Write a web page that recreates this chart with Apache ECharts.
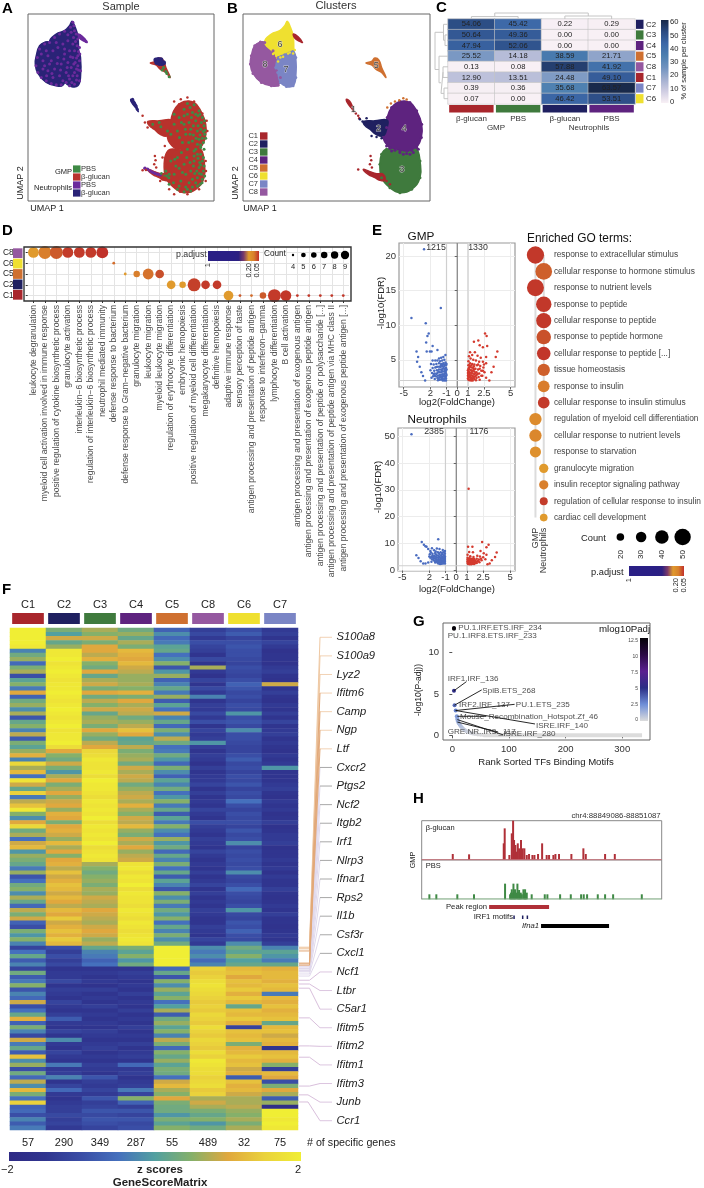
<!DOCTYPE html>
<html><head><meta charset="utf-8">
<style>html,body{margin:0;padding:0;background:#fff}#c{width:704px;height:1188px}</style>
<script src="https://cdn.jsdelivr.net/npm/echarts@6/dist/echarts.min.js"></script>
</head><body><div id="c"></div>
<script>
/* ---------- colours ---------- */
const clusterColors={C1:'#a8262c',C2:'#1f2060',C3:'#3f7a3d',C4:'#5e237f',C5:'#cf7030',C6:'#efe030',C7:'#7a85c5',C8:'#9558a0'};
const heatStops=['#2e2a85','#30358f','#3a4ea6','#4570bd','#52a0a0','#85b06a','#e0a83e','#ead23c','#f0ee34'];
const padjStops=['#c0302a','#c9522b','#d87a2c','#e09a2d'];

/* ---------- A / B : UMAP shapes (units: 0-560 across each frame) ---------- */
const shapeC8=[[52,84],[35,95],[25,125],[22,150],[30,178],[55,205],[85,215],[105,213],[112,190],[100,170],[105,130],[90,110],[65,85]];
const shapeC6=[[133,22],[142,40],[150,65],[152,100],[150,115],[120,122],[105,135],[95,118],[65,85],[85,60],[110,50],[125,35]];
const shapeC7=[[107,130],[125,122],[150,112],[158,130],[158,190],[150,215],[130,217],[112,205],[104,175],[98,160]];
const shapeC1a=[[151,60],[165,68],[178,85],[170,82],[155,72]];
const shapeC5=[[368,147],[385,142],[395,132],[407,138],[415,160],[428,190],[415,175],[398,165],[385,152]];
const shapeC1b=[[310,255],[322,265],[332,292],[325,282],[312,265]];
const shapeC2=[[361,322],[395,320],[432,318],[430,345],[420,365],[398,360],[380,345],[366,335]];
const shapeC4=[[470,262],[500,265],[520,290],[535,330],[534,370],[520,400],[500,420],[470,410],[440,400],[420,370],[430,340],[432,310],[445,280]];
const shapeC3=[[430,405],[470,412],[500,415],[520,405],[530,440],[530,490],[505,525],[470,535],[440,520],[415,490],[410,450],[415,420]];
const shapeC1c=[[360,465],[380,472],[400,478],[420,480],[425,498],[410,498],[395,490],[375,480]];
const neutroPurple=[[135,25],[138,35],[128,40],[140,50],[145,60],[130,55],[120,62],[150,75],[155,100],[148,95],[140,110],[150,125],[155,140],[150,155],[158,170],[148,185],[155,200],[140,210],[125,215],[115,205],[100,212],[85,212],[70,208],[55,200],[40,190],[30,175],[24,155],[28,130],[35,105],[50,90],[65,85],[80,70],[95,60],[110,52],[120,80],[105,90],[90,100],[75,110],[60,125],[45,140],[70,140],[90,130],[110,120],[125,110],[135,130],[120,145],[100,150],[80,165],[60,170],[45,165],[75,190],[95,185],[115,175],[130,160],[140,175],[125,195],[105,200],[135,90],[110,105],[85,85],[55,110],[40,120],[50,155],[65,150],[88,148],[108,135],[128,128],[142,145],[118,160],[98,168],[72,178],[56,185],[160,68],[168,75],[175,82],[171,78],[143,82],[137,70],[152,112],[146,132],[156,120],[152,168],[146,198],[135,185],[132,205],[122,185],[146,165],[138,150]];
const gmpGreen=[[480,268],[500,272],[515,290],[525,310],[530,335],[532,360],[528,385],[520,400],[510,420],[525,440],[528,470],[525,495],[510,515],[490,530],[470,532],[450,525],[480,300],[505,320],[490,345],[510,350],[475,360],[520,345],[495,380],[510,390],[480,405],[465,385],[450,350],[440,330],[455,310],[470,285],[500,440],[515,460],[490,470],[470,450],[510,490],[485,505],[460,500],[440,480],[430,440],[450,430],[425,510],[415,470],[500,410],[520,420],[505,300],[495,295],[515,375],[470,330],[485,325],[440,300],[462,415],[445,455],[478,430],[495,495],[518,510],[502,478],[465,475],[438,505],[455,515],[475,518],[400,338],[420,350],[375,330],[395,325],[430,360],[522,325],[512,335],[498,362],[525,372],[505,405],[517,445],[508,470],[522,480],[498,455],[484,385],[456,370],[533,348],[530,405],[488,280],[512,305],[492,310],[518,300],[528,352],[518,362],[506,372],[520,392],[535,372],[532,320],[498,335],[488,360],[474,345],[462,325],[470,305],[528,430],[520,452],[512,432],[530,455],[532,485],[516,478],[524,505],[505,505],[495,518],[480,525],[500,425],[488,445],[475,480],[455,462],[442,435],[425,480]];
const gmpRedEdge=[[345,305],[368,330],[378,342],[460,255],[480,250],[500,262],[382,425],[384,438],[380,450],[386,460],[345,468],[430,345],[440,262],[540,350],[538,320],[535,440],[535,500],[440,540],[480,540],[405,495],[398,500],[430,500],[355,467],[525,298],[455,270],[412,395],[405,430],[408,480],[425,525],[458,532],[515,525],[536,470],[352,325],[360,340]];
const smallNavy=[[385,138],[392,136],[398,142],[403,148],[396,148],[388,145],[408,146],[400,137]];
const smallGreen=[[408,160],[415,172],[425,188],[418,178],[404,168]];
const tailPurple=[[360,465],[368,470],[375,474],[382,477],[390,480],[398,482],[352,462]];
const tailGreen=[[402,478],[410,482],[418,485],[424,490]];
const streakNavy=[[312,258],[316,262],[320,268],[325,275],[329,285],[315,255]];
const clusterEdge=[[25,150],[40,100],[52,200],[85,218],[130,220],[160,150],[160,180],[133,18],[150,50],[135,28]];
const clusterYellowBits=[[100,125],[112,130],[135,118],[150,118],[90,120],[72,95],[120,128],[105,142],[140,115],[155,108]];
const clusterOrangeBits=[[443,268],[455,262],[468,258],[480,252],[490,256],[432,280]];
const clusterPurpleBits=[[430,395],[445,410],[470,415],[490,418],[510,415],[525,405],[455,408],[480,420],[440,402],[505,408]];
const clusterRedBits=[[338,298],[345,305],[348,312],[382,425],[384,438],[380,450],[386,460],[430,500],[440,510],[345,466]];
const clusterNavyBits=[[350,315],[358,322],[370,312],[385,365],[400,368],[415,372]];
const clusterNames=['C1','C2','C3','C4','C5','C6','C7','C8'];
const clusterLabels=[['6',111,90],['8',66,152],['7',129,165],['5',399,154],['1',331,287],['2',406,342],['4',483,342],['3',476,467]];

/* ---------- C : sample share per cluster ---------- */
const sampleNames=['β-glucan','PBS','β-glucan','PBS'];
const sampleColors=['#a8262c','#3f7a3d','#1f2060','#5e237f'];
const shareRows=['C2','C3','C4','C5','C8','C1','C7','C6'];
const shareGlucanGMP=[54.06,50.64,47.94,25.52,0.13,12.90,0.39,0.07];
const sharePbsGMP=[45.42,49.36,52.06,14.18,0.08,13.51,0.36,0.00];
const shareGlucanNeu=[0.22,0.00,0.00,38.59,57.88,24.48,35.68,46.42];
const sharePbsNeu=[0.29,0.00,0.00,21.71,41.92,49.10,63.57,53.51];
const shareStops=['#f8f0f5','#cfcde2','#a2afd0','#6f92bf','#4c7fb0','#3c68a8','#2b4b82','#182848'];
const shareTicks=[0,10,20,30,40,50,60];
const dendroTop=[[[.5,0],[.5,2],[1.5,2],[1.5,0]],[[2.5,0],[2.5,2.5],[3.5,2.5],[3.5,0]],[[1,2],[1,5],[3,5],[3,2.5]]];
const dendroLeft=[[[0,1.5],[3,1.5],[3,2.5],[0,2.5]],[[0,.5],[4.5,.5],[4.5,2],[3,2]],[[0,6.5],[4,6.5],[4,7.5],[0,7.5]],[[0,4.5],[5,4.5],[5,5.5],[0,5.5]],[[5,5],[7,5],[7,7],[4,7]],[[0,3.5],[9,3.5],[9,6],[7,6]],[[4.5,1.25],[13,1.25],[13,4.75],[9,4.75]]];

/* ---------- D : GO dot plot per cluster ---------- */
const goTerms=['leukocyte degranulation','myeloid cell activation involved in immune response','positive regulation of cytokine biosynthetic process','granulocyte activation','interleukin−6 biosynthetic process','regulation of interleukin−6 biosynthetic process','neutrophil mediated immunity','defense response to bacterium','defense response to Gram−negative bacterium','granulocyte migration','leukocyte migration','myeloid leukocyte migration','regulation of erythrocyte differentiation','embryonic hemopoiesis','positive regulation of myeloid cell differentiation','megakaryocyte differentiation','definitive hemopoiesis','adaptive immune response','sensory perception of taste','antigen processing and presentation of peptide antigen','response to interferon−gamma','lymphocyte differentiation','B cell activation','antigen processing and presentation of exogenous antigen','antigen processing and presentation of exogenous peptide antigen','antigen processing and presentation of peptide or polysaccharide [...]','antigen processing and presentation of peptide antigen via MHC class II','antigen processing and presentation of exogenous peptide antigen [...]'];
const goClusters=['C8','C6','C5','C2','C1'];
const goDots=[[0,0,8,.05],[1,0,9,.036],[2,0,9,.02],[3,0,8,.006],[4,0,8,.005],[5,0,8,.005],[6,0,8.5,.001],[7,1,4,.028],[8,2,4,.05],[9,2,6,.036],[10,2,8,.03],[11,2,7,.015],[12,3,7,.05],[13,3,6,.05],[14,3,9,.008],[15,3,7,.005],[16,3,7,.005],[17,4,7.5,.05],[18,4,4,.02],[19,4,4,.028],[20,4,6,.02],[21,4,9,.005],[22,4,8,.004],[23,4,4,.004],[24,4,4,.004],[25,4,4,.004],[26,4,4,.004],[27,4,4,.004]];
const goCountLegend=['4','5','6','7','8','9'];

/* ---------- E : volcano plots ---------- */
const volcanoTicks=[-5,-2.5,-1,0,1,2.5,5];
const volcanoTickLabels=['-5','2','-1','0','1','2.5','5'];
const gmpDown=[[-4.28,11.06],[-2.94,10.3],[-1.53,12.5],[-3.1,21],[-2.66,8.8],[-2.78,8.45],[-2.9,7.5],[-2.3,7],[-3.8,6.2],[-2.85,6.2],[-2.55,6.2],[-2.4,6.2],[-1.85,6.4],[-3.65,5.4],[-3.75,4.7],[-3.5,4],[-3.35,3.2],[-3.2,2.65],[-3,2],[-1.1,5.7],[-1.3,5.4],[-1.5,5.3],[-1.7,5.2],[-1.2,5],[-1.4,4.9],[-1.6,4.8],[-1.85,4.9],[-2.05,4.9],[-2.3,4.9],[-1.1,4.6],[-1.3,4.5],[-1.5,4.4],[-1.7,4.5],[-1.95,4.4],[-2.2,4.3],[-1.05,4.2],[-1.2,4.1],[-1.4,4.1],[-1.6,4],[-1.8,4],[-2.05,3.9],[-2.3,3.8],[-1.05,3.8],[-1.2,3.7],[-1.35,3.7],[-1.5,3.6],[-1.7,3.6],[-1.9,3.5],[-2.15,3.4],[-1.05,3.4],[-1.2,3.3],[-1.35,3.3],[-1.5,3.2],[-1.65,3.2],[-1.85,3.1],[-2.1,3],[-2.35,3.1],[-1.05,3],[-1.2,2.95],[-1.35,2.9],[-1.5,2.85],[-1.65,2.8],[-1.8,2.7],[-2,2.6],[-2.25,2.6],[-1.05,2.65],[-1.2,2.6],[-1.35,2.55],[-1.5,2.5],[-1.65,2.45],[-1.85,2.35],[-2.1,2.2],[-1.05,2.3],[-1.2,2.25],[-1.35,2.2],[-1.5,2.15],[-1.65,2.1],[-1.8,2.05],[-1.05,2],[-1.2,2],[-1.35,2],[-2.4,2.4],[-1,3.6],[-1,2.8],[-1,4.4],[-1.1,2.45],[-1.3,2.75],[-1.45,3.45],[-1.1,3.15],[-1.28,3.95],[-1.55,3.95],[-1.75,3.3],[-1.95,2.95],[-1.95,3.95],[-1.75,2.3],[-1.6,2.65],[-1.45,2.35],[-1.15,3.5],[-1.12,4.35],[-1.32,4.3],[-1.52,4.2],[-2.2,2.95],[-2.5,3.5],[-2.45,4.4],[-2.1,2.7]];
const gmpUp=[[3.75,6.2],[3.6,5.4],[3.4,4],[3.2,3.2],[3,2],[2.6,8.8],[2.75,8.45],[1.97,7.8],[1.56,7.6],[2.1,7.1],[2.4,6.8],[2.8,7],[1.2,6.1],[1.65,6.1],[1.4,5.7],[1.9,5.6],[2.2,5.3],[2.7,5.4],[1.1,5.5],[1.25,5.2],[1.5,5],[1.75,4.9],[2.05,4.7],[2.4,4.7],[2.7,4.5],[1.05,4.8],[1.2,4.5],[1.4,4.4],[1.6,4.3],[1.85,4.2],[2.15,4.1],[2.45,3.9],[1.05,4.2],[1.2,4],[1.35,3.9],[1.5,3.8],[1.7,3.7],[1.95,3.6],[2.25,3.4],[2.55,3.2],[1.05,3.7],[1.15,3.6],[1.3,3.5],[1.45,3.4],[1.6,3.3],[1.8,3.2],[2.05,3],[2.35,2.7],[2.7,2.4],[1.05,3.3],[1.15,3.2],[1.3,3.1],[1.45,3],[1.6,2.9],[1.8,2.8],[2,2.5],[1.05,2.9],[1.15,2.85],[1.3,2.75],[1.45,2.65],[1.6,2.55],[1.8,2.35],[2.1,2.1],[1.05,2.5],[1.15,2.45],[1.3,2.4],[1.45,2.3],[1.6,2.2],[1.75,2.05],[1.05,2.1],[1.15,2.05],[1.3,2],[1.45,2],[1,2.7],[1,3.5],[1,2.3],[1.1,4.2],[1.22,2.6],[1.38,2.2],[1.5,2.5],[1,3.1],[1.1,3],[1.25,2.2],[1.12,2.75],[1.38,3.25],[1.55,3.6],[1.7,3.1],[1.7,2.6],[1.9,2.95],[1.32,4.2],[1.55,4.05],[1.1,3.85],[1.95,4.3],[2.25,2.7],[2.4,3.4],[2.5,4.3],[2.1,3.7]];
const neuDown=[[-4.15,50.7],[-3.2,10.6],[-2.75,8.8],[-3.7,5.7],[-3.5,4.6],[-3.3,3.4],[-3.06,2.6],[-1.67,11.6],[-3,9.6],[-2.85,9],[-2.6,8],[-2.4,7.2],[-2.25,8.3],[-2.05,7.5],[-1.8,8.2],[-1.55,8],[-1.25,7.6],[-1.05,7.2],[-1.2,6.8],[-1.45,6.8],[-1.7,6.8],[-1.95,6.5],[-2.2,6.2],[-2.45,6],[-1.05,6.2],[-1.3,6],[-1.55,5.9],[-1.8,5.7],[-2.05,5.4],[-2.3,5.1],[-1.05,5.3],[-1.3,5.1],[-1.55,5],[-1.8,4.8],[-2.05,4.5],[-2.25,4.2],[-1.05,4.6],[-1.25,4.5],[-1.45,4.3],[-1.65,4.2],[-1.85,4],[-2.05,3.7],[-1.05,3.9],[-1.2,3.8],[-1.4,3.7],[-1.6,3.5],[-1.8,3.2],[-1.95,3],[-1.05,3.2],[-1.2,3.1],[-1.4,3],[-1.55,2.9],[-1.7,2.7],[-1.05,2.6],[-1.2,2.6],[-1.35,2.5],[-1.5,2.4],[-2.3,3.2],[-2.6,3],[-2.85,2.6],[-1.15,5.7],[-1.4,5.5],[-1.65,5.4],[-1.9,5.1],[-2.15,4.9],[-2.4,4.7],[-1.15,4.9],[-1.4,4.75],[-1.65,4.65],[-1.9,4.4],[-2.15,4.1],[-1.15,4.25],[-1.35,4.1],[-1.55,3.95],[-1.75,3.7],[-1.95,3.45],[-1.15,3.5],[-1.3,3.4],[-1.5,3.3],[-1.7,3.1],[-1.15,2.85],[-1.3,2.75],[-1.45,2.65],[-1.6,2.6],[-1.3,6.5],[-1.6,6.4],[-1.9,6],[-2.2,5.6],[-2.5,5.2],[-1.1,6.7],[-2.35,6.7],[-1.9,7.1]];
const neuUp=[[1.15,30.4],[1.5,8.8],[1.1,8.8],[2.4,10.6],[3,9.6],[2.8,8.6],[3.75,6.7],[3.6,5],[3.3,3.8],[3.1,2.6],[1.55,6.8],[1.2,6.9],[2.25,7.2],[2.55,6.4],[2.8,5.8],[1.05,5.8],[1.3,5.3],[1.6,5],[1.95,5.5],[2.2,5.2],[2.5,4.9],[2.7,4.2],[1.05,4.7],[1.25,4.5],[1.45,4.4],[1.65,4.3],[1.9,4.4],[2.1,4.1],[2.35,3.8],[1.05,4.1],[1.2,3.9],[1.35,3.8],[1.55,3.7],[1.75,3.6],[1.95,3.4],[2.15,3.1],[1.05,3.4],[1.2,3.3],[1.35,3.2],[1.5,3.1],[1.7,3],[1.9,2.8],[1.05,2.8],[1.2,2.7],[1.35,2.6],[1.5,2.5],[1.65,2.4],[2.9,2.3],[1.12,3.05],[1.28,2.95],[1.42,2.85],[1.58,2.75],[1.75,2.65],[1.12,3.6],[1.28,3.5],[1.45,3.45],[1.62,3.35],[1.82,3.25],[2.05,3.6],[1.12,4.4],[1.32,4.2],[1.5,4.05],[1.7,3.95],[2.3,4.4],[1.1,2.4],[1.25,2.35],[1.4,2.3]];

/* ---------- E : enriched GO terms ---------- */
const enrichedTerms=['response to extracellular stimulus','cellular response to hormone stimulus','response to nutrient levels','response to peptide','cellular response to peptide','response to peptide hormone','cellular response to peptide [...]','tissue homeostasis','response to insulin','cellular response to insulin stimulus','regulation of myeloid cell differentiation','cellular response to nutrient levels','response to starvation','granulocyte migration','insulin receptor signaling pathway','regulation of cellular response to insulin','cardiac cell development'];
const enrichedSamples=['GMP','Neutrophils'];
const enrichedDots=[[0,0,50,.004],[1,1,48,.022],[0,2,49,.004],[1,3,44,.004],[1,4,43,.004],[1,5,41,.016],[1,6,38,.003],[1,7,34,.022],[1,8,32,.035],[1,9,32,.005],[0,10,34,.042],[0,11,34,.04],[0,12,30,.045],[1,13,24,.05],[1,14,24,.036],[1,15,20,.006],[1,16,19,.05]];
const enrichedCountLegend=['20','30','40','50'];

/* ---------- F : heat map (z scores, one row per peak group) ---------- */
const heatColumns=['C1','C2','C3','C4','C5','C8','C6','C7'];
const specificGenes=['57','290','349','287','55','489','32','75'];
const rowsC1=[[2,.4,.7,.3,-.7,-1.3,-1,-1.4],[2,0,.5,.6,-.2,-1.1,-.8,-1.3],[2,.9,.9,.2,-.6,-1.4,-1.2,-1.5],[2,.2,.4,.7,-.4,-1,-1,-1.2],[1.9,.6,1,.4,.1,-1.2,-.9,-1.4]];
const rowsC2=[[-.3,1.9,1,1.2,.2,-1.3,-1,-1.6],[.3,1.9,.8,1.1,-.5,-1.5,-1,-1.5],[.6,2,1.1,1,-.2,-1.1,-1.1,-1.5],[-.6,1.8,.5,1.2,.5,-1.5,-1.2,-1.6],[.4,1.9,.3,.9,-.9,.7,-1,-1.4],[.7,2,1,.8,-.1,-1.4,-1.1,-1.3],[-1,1.9,.2,.6,.6,-1.6,-1.2,-1.5],[.1,1.8,.7,.6,-.7,-1.2,-1,-1.6],[.5,1.9,.9,.7,-.3,-1.5,-.7,.9],[-.4,1.9,.4,.5,.2,-1.1,-.9,-1.5],[1,2,1,1.1,-.4,-1.4,-1.1,-1.3],[-.7,1.9,.3,.4,.6,-.3,-1,-1.5],[.3,1.8,.8,1,-.8,-1.5,-1.2,-1.6],[.6,1.9,.5,.7,.1,-1.3,-1,-1.4],[-.2,2,.9,.9,-.5,-1.4,-1.1,-1.5],[.7,1.9,.2,.8,.9,-1.1,-.1,-1.3],[-.9,1.8,.6,.3,-.3,-1.4,-1,-1.5],[.2,1.9,.7,.6,.2,-1,-.9,-1.2],[.5,2,.4,.8,-.6,-1.5,-1.1,-1.5],[-.3,1.8,1,1.3,.4,-1.2,-.2,-1.4],[.8,1.9,.6,1,-.2,-1.4,-1,-1.3],[-.8,1.9,.3,.1,.8,-1.3,-1,-1.5],[.4,2,.8,.2,.3,-.1,-1.1,-1.4],[.1,1.7,1,.8,-.5,-1.3,-1.2,-1.5]];
const rowsC3=[[.6,1,1.6,.4,-.4,-1.5,-1.2,-1.6],[1.1,.5,1.7,.6,.3,-1.3,-1,-1.4],[-.3,.3,1.9,.7,-.1,-1.4,-.8,-1.5],[1.6,.9,1.8,.3,-.6,-1.6,-1.1,-1.4],[.7,.4,1.8,.9,.4,-1.3,-1,-.1],[1.2,-.1,1.9,.7,-.2,-1.5,-1.2,-1.5],[-.5,.7,1.7,.9,-.7,-1.4,-1,-1.5],[1.8,1,2,.8,.1,-1.4,-1.1,-1.5],[.9,.4,1.9,.3,-.3,-1.2,-.9,-1.4],[.2,.7,1.9,.6,.3,-1.5,-1.2,-1.3],[1.5,1,1.8,.8,-.5,-1.3,-1,-1.5],[-.4,.6,1.7,.9,-.1,-1.5,-1.1,-1.6],[.8,.9,1.9,.7,.5,-1.4,-.5,-1.4],[1.3,1,1.8,1.1,-.4,-1.5,-1,-1.5],[1.9,.6,1.9,.7,.2,-1.2,-1.2,-1.4],[.5,1.1,1.8,.5,-.8,-1.4,-1,-1.6],[-.2,1,2,.9,.1,-1.5,-1.1,-1.5],[1,.4,1.7,.8,-.4,-1,-1,-1.3],[1.6,1,1.9,1.2,.5,-1.3,-1.2,-1.6],[.3,1.1,1.8,.6,-.2,-1.4,-.9,-1.5],[.7,.9,1.9,.4,-.5,-1.5,-1.1,-1.4],[-.5,.6,1.8,.9,.6,-1.3,-1,-1.4],[.9,1.2,2,.7,-.1,-1.4,-.2,-1.3],[1.2,.7,1.7,1,.3,-1.5,-1.2,-1.6],[-.1,1,1.8,.6,-.6,-1.2,-1,-1.5],[.6,.5,1.9,.8,.2,-1.4,-1.1,-1.5],[.4,1,1.8,.9,-.3,-1.5,-1,-1.4]];
const rowsC4=[[.2,1.1,.7,1.8,.4,-1.4,-1.1,-1.5],[-.4,.8,.5,1.9,-.5,-1.5,-1,-1.4],[.6,1.3,.3,1.7,.2,-1.3,-.2,-1.6],[-.9,.9,.5,1.9,-.8,-1.5,-1.1,-1.4],[-.5,1.1,.6,1.8,.1,-1.4,-1.2,-1.5],[.3,1.3,.4,2,-.3,-1.2,-1,-1.5],[.5,1.2,.7,1.7,-.9,-1.5,-.6,-1.3],[-.2,.9,.6,1.9,.5,-1.3,-1,-1.5],[.7,1.2,.9,1.8,-.2,-1.5,-1.1,-1.6],[.2,1,.8,1.8,.4,-1.4,-1.2,-1.5],[-.6,.8,.7,1.7,-.4,-1.5,-1,-1.4],[.8,1.2,1,1.9,.3,-1.3,-.1,-1.5],[.4,1,.9,1.8,-.1,-1.4,-1.1,-1.3],[.9,1.4,.8,1.7,.5,-1.5,-1.2,-1.5],[-.7,.9,.7,1.9,-.5,-1.5,-.9,-1.5],[-1,1.1,.9,1.8,.2,-1.3,-1,-1.6],[.4,1.3,1,1.7,-.3,-1.4,-.7,-1.5],[-.1,1.1,.9,1.8,.4,-1.5,-1,-1.4],[.5,1.4,.6,1.9,-.2,-1.2,-1.1,-1.5],[-.3,1.2,.8,1.8,.3,-1.4,-.2,-1.3]];
const rowsC5=[[-1.2,-1,.2,.4,2,-.2,.3,-.3],[-.5,-1.3,-.3,.1,2,-.4,.1,.1],[.2,-1,-.4,.5,2,-.2,.5,-.1],[-.8,-1.3,-.7,-.1,2,-.6,0,-.4],[-.3,-1.1,-.5,.3,2,-.3,.2,.2]];
const rowsC8=[[-1.2,-1.5,-1.5,-1.5,-.6,1.5,1.2,1.1],[.3,-1.4,-1.4,-1.3,.2,1.4,1.3,1.2],[-.8,-1.4,-1.5,-1.4,-.9,1.5,1,1.2],[-.4,-1.1,-1.4,-1.5,.5,1.7,1.3,1.1],[.5,-1.5,-1.6,-1.4,-.2,1.8,1.2,1.3],[-.9,-1.3,-1.3,-1.5,.6,1.7,1.4,1.2],[-.3,-1.4,-1.5,-1.3,.1,1.6,1.1,-.4],[-.6,-1.5,-1.4,-1.5,.5,1.5,1.4,1.2],[.9,-1.2,-1.5,-1.4,-.5,1.4,1.2,1.1],[-1,-1.4,-1.3,-1.5,0,1.5,.2,1.3],[-.5,-1.5,-1.5,-1.3,.7,1.4,1.3,1.1],[.2,-1.3,-1.4,-1.5,-.8,1.6,1.2,1.2],[1.1,-.8,-1.5,-1.4,.3,1.5,1.4,1.3],[-.7,-1.4,-1.4,-1.5,.6,1.4,1.1,.2],[.4,-1.5,-1.5,-1.3,.1,1.7,-1.2,1.2],[-.3,-1.2,-1.3,-1.5,.5,1.5,1.3,1.3],[-1.1,-1.5,-1.4,-1.4,-.3,1.4,1.2,.9],[.9,-.2,-1.5,-1.5,.8,1.6,1.3,1.2],[-.4,-1.4,-1.4,-1.3,.4,1.5,.4,1.1],[.2,-1.5,-1.3,-1.5,-.6,1.4,1.1,-1.5],[-.8,-1.2,-1.5,-1.4,.5,1.7,1.2,1.2],[1.3,-1.4,-1.4,-1.3,.2,1.5,1.4,1.3],[-.2,-1.5,-1.5,-1.5,.6,1.9,1.2,1.1],[.6,-.4,-1.3,-.6,.1,1.8,1.3,.5],[-1,-1.4,-1.4,-1.4,.4,1.7,.9,-1.3],[.3,-1.3,-1.5,-1.3,.3,1.7,1.1,1.2],[-.6,-.3,-.9,-1.5,-.5,1.5,-.8,1],[.8,-1.5,-1.3,-1.4,.9,1.6,1.3,-1],[-.2,-1.2,-1.4,-1.3,1.2,1.7,1.1,.4],[1.2,-.6,-1.2,-.4,.7,1.4,1.2,1],[.4,-1.4,-1.4,-1.2,.5,1.5,.9,.7],[-.5,-1.5,-.9,.5,1,.7,.7,-.8],[1.5,-1.4,-1.3,-.7,.4,.9,.7,.6],[-.7,-1.3,-1.2,-1.3,.3,.7,.8,-1.8]];
const rowsC7=[[-.6,-1.3,-.9,-.9,.3,.4,.6,2],[-1,-1.1,-1.1,-1.2,-.1,.2,.5,2],[-.3,-1.3,-.9,-.9,.4,.5,.7,1.9],[-.8,-1.2,-1,-1.1,.1,-.1,.4,2],[-.4,-1.4,-1.2,-1,.5,.3,.7,1.9]];

/* ---------- F : marked genes ---------- */
const geneNames=['S100a8','S100a9','Lyz2','Ifitm6','Camp','Ngp','Ltf','Cxcr2','Ptgs2','Ncf2','Itgb2','Irf1','Nlrp3','Ifnar1','Rps2','Il1b','Csf3r','Cxcl1','Ncf1','Ltbr','C5ar1','Ifitm5','Ifitm2','Ifitm1','Ifitm3','Junb','Ccr1'];
const geneRows=[76.3,76.5,76.7,77.2,80.1,80.3,80.6,80.8,81,81.3,81.4,81.5,81.8,81.9,82,82.2,82.7,83.2,84.2,85.1,86.1,93.2,99.9,102.6,109.5,111.6,113.3];

/* ---------- G : ranked TF motifs ---------- */
const tfPoints=[[3,13],[3,12.9],[3,5.4],[4,3.65],[6,3],[8,2.3],[9,2.1],[9,1.9],[10,1.7],[11,1.5],[13,1.3],[15,1.1],[17,.95],[19,.8],[22,.65],[25,.5],[28,.4],[32,.3],[36,.22],[40,.15],[45,.1],[50,.06],[55,.03]];
const tfFlatRange=[[55,0],[335,0]];
const tfLabels=[[10.6,13,'PU.1.IRF.ETS.IRF_234'],[-8.2,12,'PU.1.IRF8.ETS.IRF_233'],[-8.2,6.9,'IRF1.IRF_136'],[53,5.4,'SpiB.ETS_268'],[12,3.7,'IRF2.IRF_137'],[112,3.7,'PU.1.ETS_235'],[13.5,2.3,'Mouse_Recombination_Hotspot.Zf_46'],[147.6,1.1,'ISRE.IRF_140'],[-8.2,.4,'GRE.NR..IR3._117'],[90,.15,'ISRE.IRF_280']];
const tfLeaders=[[[3,5.4],[25,6.5]],[[4,3.65],[52,5.5]],[[6,3],[110,3.75]],[[6,3],[146,1.37]],[[9,2.3],[60,2.3]],[[9,1.9],[90,.05]],[[9,1.6],[81,.4]]];
const tfTicksX=[0,100,200,300];
const tfTicksY=[0,5,10];
const tfStops=['#dcdcdc','#6f8fd8','#2b2e85','#5a2090','#2c0a45','#050308'];
const tfLegendTicks=['12.5','10','7.5','5','2.5','0'];

/* ---------- H : coverage tracks (offset bp, signal) ---------- */
const trackGlucan=[[259,18],[395,17],[684,50],[692,95],[731,15],[751,80],[762,118],[770,60],[781,45],[790,25],[801,50],[812,35],[820,30],[828,60],[842,35],[856,35],[876,15],[895,18],[923,15],[940,15],[970,18],[1004,50],[1042,15],[1062,15],[1098,15],[1115,18],[1145,18],[1248,18],[1348,35],[1368,18],[1529,18],[1610,18]];
const trackPbs=[[64,15],[122,15],[297,15],[436,15],[695,47],[737,15],[745,20],[751,30],[758,20],[765,47],[772,22],[778,30],[788,20],[798,47],[805,22],[812,28],[820,18],[826,20],[835,15],[848,30],[855,18],[862,30],[868,18],[876,20],[917,15],[1026,15],[1048,15],[1154,15],[1243,15],[1329,15],[1351,15],[1379,15],[1468,15],[1529,15],[1596,15],[1835,15]];
const peakRegion=[[562,0],[1062,0]];
const irfMotifs=[770,842,881];
const ifna1Gene=[[995,0],[1562,0]];

/* ---------- builders ---------- */
const FONT='"Liberation Sans",Arial,sans-serif';
const grids=[],xA=[],yA=[],series=[],gfx=[],vms=[];
function G(l,t,w,h,x,y,opt){const i=grids.length;
  grids.push(Object.assign({left:l,top:t,width:w,height:h,containLabel:false},opt||{}));
  xA.push(Object.assign({gridIndex:i,type:'value',show:false,splitLine:{show:false}},x||{}));
  yA.push(Object.assign({gridIndex:i,type:'value',show:false,splitLine:{show:false}},y||{}));
  return i;}
function T(x,y,text,o){o=o||{};gfx.push({type:'text',x:x,y:y,rotation:o.rot||0,z:50,silent:true,style:{text:text,fill:o.color||'#222',textAlign:o.align||'left',textVerticalAlign:o.v||'middle',font:(o.italic?'italic ':'')+(o.bold?'bold ':'')+(o.size||8)+'px '+FONT}});}
function bar(x,y,w,h,stops,vert){const c=stops.map((s,i)=>({offset:i/(stops.length-1),color:s}));
  gfx.push({type:'rect',z:40,silent:true,shape:{x:x,y:y,width:w,height:h},style:{fill:new echarts.graphic.LinearGradient(0,vert?1:0,vert?0:1,0,c)}});}
function poly(g,pts,color){series.push({type:'custom',xAxisIndex:g,yAxisIndex:g,silent:true,clip:false,data:pts,encode:{x:0,y:1},renderItem:(p,api)=>{if(p.dataIndex!==0)return;return {type:'polygon',shape:{points:pts.map(q=>api.coord(q)),smooth:.45},style:{fill:color,stroke:color,lineWidth:1.5}};}});}
function sc(g,pts,color,size,o){series.push(Object.assign({type:'scatter',xAxisIndex:g,yAxisIndex:g,data:pts,symbolSize:size,silent:true,animation:false,itemStyle:{color:color,opacity:1}},o||{}));}
function ln(g,pts,color,w,z){series.push({type:'line',xAxisIndex:g,yAxisIndex:g,data:pts,showSymbol:false,symbol:'none',silent:true,animation:false,clip:false,z:z||2,lineStyle:{color:color,width:w}});}
function strip(l,t,w,h,colors,vertical,gap,labels,labOpt){
  const cats=colors.map((_,i)=>labels?labels[i]:String(i));
  const catAx={type:'category',data:cats,show:!!labels,axisLine:{show:false},axisTick:{show:false},axisLabel:labOpt||{}};
  if(vertical)catAx.inverse=true;
  const valAx={type:'value',min:0,max:1,show:false};
  const g=vertical?G(l,t,w,h,valAx,catAx):G(l,t,w,h,catAx,valAx);
  series.push({type:'bar',xAxisIndex:g,yAxisIndex:g,silent:true,animation:false,barWidth:(100-gap)+'%',
    data:colors.map(c=>({value:1,itemStyle:{color:c}}))});
  return g;}
function panel(letter,x,y){T(x,y,letter,{bold:true,size:15,color:'#000'});}

/* ---------- A ---------- */
panel('A',2,9);panel('B',227,9);panel('C',436,8);panel('D',2,231);panel('E',372,231);panel('F',2,590);panel('G',413,622);panel('H',413,799);
const umapAxX={min:0,max:560},umapAxY={min:0,max:560,inverse:true};
const frame={show:true,borderColor:'#666',borderWidth:1,backgroundColor:'#fff'};
const a=G(28,14,186,187,umapAxX,umapAxY,frame);
const navy='#2a2377',aPurple='#6b2a9c',aRed='#b8322c',aGreen='#3f8a45';
[shapeC8,shapeC6,shapeC7].forEach(s=>poly(a,s,navy));
poly(a,shapeC5,aRed);poly(a,shapeC1a,aPurple);poly(a,shapeC1b,navy);poly(a,shapeC1c,aRed);
poly(a,shapeC2,aRed);poly(a,shapeC4,aRed);poly(a,shapeC3,aRed);
sc(a,neutroPurple,aPurple,3);
sc(a,smallNavy,navy,5);sc(a,smallGreen,aGreen,3);sc(a,tailPurple,aPurple,3.5);sc(a,tailGreen,aGreen,3);sc(a,streakNavy,navy,3);
sc(a,gmpGreen,aGreen,3);sc(a,gmpRedEdge,aRed,2.5);
T(121,7,'Sample',{align:'center',size:11,color:'#333'});
T(47,209,'UMAP 1',{align:'center',size:9,color:'#222'});
T(21,183,'UMAP 2',{align:'center',size:9,color:'#222',rot:Math.PI/2});
T(72,172,'GMP',{align:'right',size:7.5});T(72,188,'Neutrophils',{align:'right',size:7.5});
strip(73,165,7.5,32,[aGreen,aRed,aPurple,navy],true,10);
['PBS','β-glucan','PBS','β-glucan'].forEach((s,i)=>T(81,169+i*8,s,{size:7.5,color:'#333'}));

/* ---------- B ---------- */
const b=G(243,14,187,187,umapAxX,umapAxY,frame);
const cc=clusterColors;
poly(b,shapeC8,cc.C8);poly(b,shapeC6,cc.C6);poly(b,shapeC7,cc.C7);poly(b,shapeC1a,cc.C1);poly(b,shapeC5,cc.C5);poly(b,shapeC1b,cc.C1);poly(b,shapeC4,cc.C4);poly(b,shapeC2,cc.C2);poly(b,shapeC3,cc.C3);poly(b,shapeC1c,cc.C1);
sc(b,shapeC3,cc.C3,3);sc(b,shapeC4,cc.C4,3);sc(b,shapeC8,cc.C8,3);sc(b,shapeC7,cc.C7,3);
sc(b,clusterYellowBits,cc.C6,2.5);sc(b,clusterOrangeBits,cc.C5,2.5);sc(b,clusterPurpleBits,cc.C4,3);sc(b,clusterRedBits,cc.C1,2.5);sc(b,clusterNavyBits,cc.C2,2.5);
series.push({type:'scatter',xAxisIndex:b,yAxisIndex:b,silent:true,symbolSize:0,z:6,data:clusterLabels.map(d=>({value:[d[1],d[2]],label:{show:true,formatter:d[0],position:'inside',fontSize:9,fontFamily:FONT,color:'#222',textBorderColor:'#ddd',textBorderWidth:1}}))});
T(336,6,'Clusters',{align:'center',size:11.2,color:'#333'});
T(260,209,'UMAP 1',{align:'center',size:9,color:'#222'});
T(236,183,'UMAP 2',{align:'center',size:9,color:'#222',rot:Math.PI/2});
strip(260,132,7.5,64,clusterNames.map(n=>cc[n]),true,8);
clusterNames.forEach((n,i)=>T(258,136+i*8,n,{size:7.5,align:'right',color:'#333'}));

/* ---------- C ---------- */
const cw=G(448,19,187,85,{type:'category',data:sampleNames.map((s,i)=>i+s),splitLine:{show:false}},{type:'category',data:shareRows,inverse:true,splitLine:{show:false}});
const shareCols=[shareGlucanGMP,sharePbsGMP,shareGlucanNeu,sharePbsNeu];
const shareCells=[];shareCols.forEach((col,c)=>col.forEach((v,r)=>shareCells.push([c,r,v])));
series.push({type:'heatmap',xAxisIndex:cw,yAxisIndex:cw,data:shareCells,silent:true,animation:false,itemStyle:{borderColor:'#c4c4c4',borderWidth:.6},label:{show:true,fontSize:7.6,fontFamily:FONT,color:'#222',formatter:p=>p.value[2].toFixed(2)}});
vms.push({show:false,type:'continuous',seriesIndex:series.length-1,dimension:2,min:0,max:64,inRange:{color:shareStops}});
const dt=G(448,13,187,6,{min:0,max:4},{min:0,max:5});
dendroTop.forEach(p=>ln(dt,p,'#c4c4c4',1));
const dl=G(435,19,13,85,{min:13,max:0},{min:0,max:8,inverse:true});
dendroLeft.forEach(p=>ln(dl,p,'#c4c4c4',1));
strip(448,105,187,7.5,sampleColors,false,5);
strip(636,19,7.5,85,shareRows.map(n=>cc[n]),true,14);
shareRows.forEach((n,i)=>T(646,24.5+i*10.6,n,{size:7.8,color:'#222'}));
sampleNames.forEach((s,i)=>T(471.5+i*46.7,119,s,{align:'center',size:8,color:'#333'}));
T(496,128,'GMP',{align:'center',size:8,color:'#333'});T(589,128,'Neutrophils',{align:'center',size:8,color:'#333'});
bar(661,20,7.5,83,shareStops,true);
shareTicks.forEach((v,i)=>T(670,102-i*13.3,String(v),{size:7.6,color:'#222'}));
T(684,61,'% of sample per cluster',{align:'center',size:7.4,color:'#222',rot:Math.PI/2});

/* ---------- D ---------- */
const dotD=c=>c<=4?2.8:2.2+(c-4)*2.15;
const d=G(26,247,323,54,
 {type:'category',data:goTerms,show:true,axisLine:{show:false},axisTick:{show:true,alignWithLabel:true,length:2,lineStyle:{color:'#333'}},splitLine:{show:true,alignWithLabel:true,lineStyle:{color:'#e4e4e4',width:1}},axisLabel:{rotate:90,interval:0,fontSize:8.55,fontFamily:FONT,color:'#4d4d4d',margin:4,hideOverlap:false}},
 {type:'category',data:goClusters,inverse:true,show:true,axisLine:{show:false},axisTick:{show:true,alignWithLabel:true,length:2,lineStyle:{color:'#333'}},splitLine:{show:true,alignWithLabel:true,lineStyle:{color:'#e4e4e4',width:1}},axisLabel:{fontSize:8.4,fontFamily:FONT,color:'#222',margin:14}});
series.push({type:'scatter',xAxisIndex:d,yAxisIndex:d,data:goDots,silent:true,animation:false,clip:false,itemStyle:{opacity:1},symbolSize:v=>dotD(v[2]),encode:{x:0,y:1}});
vms.push({show:false,type:'continuous',seriesIndex:series.length-1,dimension:3,min:0,max:.05,inRange:{color:padjStops}});
const dFrame=G(24,247,327,54,{min:0,max:1},{min:0,max:1},{show:true,borderColor:'#333',borderWidth:1.4,backgroundColor:'transparent',z:5});
strip(13,248,9.5,52,goClusters.map(n=>cc[n]),true,6);
T(176,255,'p.adjust',{size:8.8,color:'#333'});
const padjBar=['#2a1f85','#2a1f85','#2a1f85','#2a1f85','#2a1f85','#2a1f85','#2c2080','#7a3a6a','#e09a2d','#d8802c','#c0302a'];
bar(208,251,51,10,padjBar,false);
T(208,263,'1',{size:7.5,rot:Math.PI/2,align:'right',color:'#222'});T(249,263,'0.20',{size:7.5,rot:Math.PI/2,align:'right',color:'#222'});T(257,263,'0.05',{size:7.5,rot:Math.PI/2,align:'right',color:'#222'});
T(264,254,'Count',{size:8.2,color:'#222'});
const dLeg=G(287.8,250,62.4,10,{type:'category',data:goCountLegend,show:true,axisLine:{show:false},axisTick:{show:false},axisLabel:{interval:0,fontSize:7.5,fontFamily:FONT,color:'#222',margin:3}},{min:0,max:2});
series.push({type:'scatter',xAxisIndex:dLeg,yAxisIndex:dLeg,silent:true,animation:false,clip:false,z:6,itemStyle:{color:'#000',opacity:1},symbolSize:(v,p)=>p.data.symbolSize,data:goCountLegend.map(c=>({value:[c,1],symbolSize:c==='4'?2.4:3.8+(Number(c)-4)*.9}))});

/* ---------- E volcano ---------- */
function volcano(l,t,w,h,xr,yr,yTicks,down,up,thr){
 const lab={fontSize:9.5,fontFamily:FONT,color:'#333'};
 const g=G(l,t,w,h,
  {min:xr[0],max:xr[1],show:true,axisLine:{show:false},axisTick:{show:true,length:2.5,customValues:volcanoTicks,lineStyle:{color:'#666'}},
   axisLabel:Object.assign({customValues:volcanoTicks,formatter:v=>volcanoTickLabels[volcanoTicks.indexOf(v)]||'',showMinLabel:true,showMaxLabel:true,margin:1},lab),
   splitLine:{show:true,customValues:volcanoTicks,lineStyle:{color:'#ececec',width:1}}},
  {min:yr[0],max:yr[1],show:true,axisLine:{show:false},axisTick:{show:true,length:2.5,customValues:yTicks,lineStyle:{color:'#666'}},
   axisLabel:Object.assign({customValues:yTicks,margin:3},lab),
   splitLine:{show:true,customValues:yTicks,lineStyle:{color:'#ececec',width:1}}},
  {show:true,borderColor:'#9a9a9a',borderWidth:1.2,backgroundColor:'#fff'});
 ln(g,[[-1,yr[0]],[-1,yr[1]]],'#cfcfcf',1.2);ln(g,[[1,yr[0]],[1,yr[1]]],'#cfcfcf',1.2);ln(g,[[0,yr[0]],[0,yr[1]]],'#6a6a6a',1);
 ln(g,[[xr[0],thr],[xr[1],thr]],'#cfcfcf',1);
 sc(g,down,'#4a6cc0',2.5,{clip:false});sc(g,up,'#d43a2e',2.5,{clip:false});
 return g;}
volcano(399,243,116,144,[-5.44,5.4],[1.06,21.9],[5,10,15,20],gmpDown,gmpUp,2);
volcano(398,428,117,143,[-5.4,5.45],[-.2,53],[0,10,20,30,40,50],neuDown,neuUp,1.75);
T(421,237,'GMP',{align:'center',size:11.8,color:'#111'});T(437,420,'Neutrophils',{align:'center',size:11.7,color:'#111'});
T(436,248,'1215',{align:'center',size:8.8,color:'#333'});T(478,248,'1330',{align:'center',size:8.8,color:'#333'});
T(434,432,'2385',{align:'center',size:8.8,color:'#333'});T(479,432,'1176',{align:'center',size:8.8,color:'#333'});
T(381,303,'-log10(FDR)',{align:'center',size:9.5,rot:Math.PI/2,color:'#222'});T(378,487,'-log10(FDR)',{align:'center',size:9.5,rot:Math.PI/2,color:'#222'});
T(457,402,'log2(FoldChange)',{align:'center',size:9.5,color:'#222'});T(457,589,'log2(FoldChange)',{align:'center',size:9.5,color:'#222'});

/* ---------- E enriched ---------- */
const goD=c=>8+(c-20)*.31;
const eg=G(531.3,246.8,18.6,279,
 {type:'category',data:enrichedSamples,show:true,axisLine:{show:false},axisTick:{show:false},axisLabel:{rotate:90,interval:0,fontSize:9,fontFamily:FONT,color:'#333',margin:2}},
 {type:'category',data:enrichedTerms,inverse:true,position:'right',show:true,axisLine:{show:false},axisTick:{show:false},axisLabel:{interval:0,fontSize:8.4,fontFamily:FONT,color:'#444',margin:6,align:'left'}});
ln(eg,[['GMP',enrichedTerms[0]],['GMP',enrichedTerms[16]]],'#dcdcdc',2,1);
ln(eg,[['Neutrophils',enrichedTerms[0]],['Neutrophils',enrichedTerms[16]]],'#dcdcdc',2,1);
series.push({type:'scatter',xAxisIndex:eg,yAxisIndex:eg,data:enrichedDots,silent:true,animation:false,clip:false,z:3,itemStyle:{opacity:1},symbolSize:v=>goD(v[2]),encode:{x:0,y:1}});
vms.push({show:false,type:'continuous',seriesIndex:series.length-1,dimension:3,min:0,max:.05,inRange:{color:padjStops}});
T(527,239,'Enriched GO terms:',{size:11.9,color:'#111'});
T(581,538,'Count',{size:9.3,color:'#222'});
const eLeg=G(610,530,83,14,{type:'category',data:enrichedCountLegend,show:true,axisLine:{show:false},axisTick:{show:false},axisLabel:{interval:0,rotate:90,fontSize:8,fontFamily:FONT,color:'#222',margin:6}},{min:0,max:2});
series.push({type:'scatter',xAxisIndex:eLeg,yAxisIndex:eLeg,silent:true,animation:false,clip:false,itemStyle:{color:'#000',opacity:1},symbolSize:v=>goD(Number(v[0]))*.95,data:enrichedCountLegend.map(c=>[c,1])});
T(591,572,'p.adjust',{size:9.3,color:'#222'});
bar(629,566,55,10,padjBar,false);
T(629,578,'1',{size:7.5,rot:Math.PI/2,align:'right',color:'#222'});T(676,578,'0.20',{size:7.5,rot:Math.PI/2,align:'right',color:'#222'});T(684,578,'0.05',{size:7.5,rot:Math.PI/2,align:'right',color:'#222'});

/* ---------- F ---------- */
const heatRows=[].concat(rowsC1,rowsC2,rowsC3,rowsC4,rowsC5,rowsC8,rowsC7);
const heatCells=[];heatRows.forEach((row,r)=>row.forEach((z,c)=>heatCells.push([c,r,z])));
const rowIds=heatRows.map((_,i)=>String(i));
const fg=G(10,628,288,502,
 {type:'category',data:specificGenes.map((s,i)=>({value:heatColumns[i]})),show:true,axisLine:{show:false},axisTick:{show:false},axisLabel:{interval:0,fontSize:11,fontFamily:FONT,color:'#222',margin:7,formatter:(v,i)=>specificGenes[i]},splitLine:{show:false}},
 {type:'category',data:rowIds,inverse:true,splitLine:{show:false}});
series.push({type:'heatmap',xAxisIndex:fg,yAxisIndex:fg,data:heatCells,silent:true,animation:false,progressive:0,itemStyle:{borderWidth:0}});
vms.push({show:false,type:'continuous',seriesIndex:series.length-1,dimension:2,min:-2,max:2,inRange:{color:heatStops}});
strip(10,613,288,11,heatColumns.map(n=>cc[n]),false,12,heatColumns,{position:'top',interval:0,fontSize:11,fontFamily:FONT,color:'#222'});
xA[xA.length-1].position='top';xA[xA.length-1].axisLabel.margin=3;
T(307,1143,'# of specific genes',{size:10.7,color:'#222'});
bar(9,1152,292,9,heatStops,false);
T(1,1170,'−2',{size:11,color:'#222'});T(295,1170,'2',{size:11,color:'#222'});
T(160,1170,'z scores',{align:'center',bold:true,size:11.5,color:'#222'});T(160,1183,'GeneScoreMatrix',{align:'center',bold:true,size:11.5,color:'#222'});
const lb=G(299,628,33,502,{min:0,max:33},{type:'category',data:geneNames,inverse:true,position:'right',show:true,axisLine:{show:false},axisTick:{show:false},axisLabel:{interval:0,fontSize:11.2,fontStyle:'italic',fontFamily:FONT,color:'#222',margin:4.5,align:'left'}});
const cn=G(299,628,33,502,{min:0,max:33},{min:0,max:120,inverse:true});
geneNames.forEach((g,i)=>{
  const slot=(i+.5)*120/27, r=geneRows[i];
  const main=i<7?'#efc9a4':(i<18?'#e0d8ec':'#d9bfdc');
  const stub=i<7?'#f2d2b4':(i<18?'#a8a8a8':'#dcc6e0');
  const elbow=i<25?10.5:9;
  ln(cn,[[0,r],[elbow,r],[21,slot]],i>2&&i<7?'#e2a878':main,1,i<7?4:3);
  ln(cn,[[21,slot],[33,slot]],stub,1,3);
});

/* ---------- G ---------- */
const tfg=G(443,623,207,117,
 {min:-16.4,max:349,show:true,axisLine:{show:false},axisTick:{show:true,length:3,customValues:tfTicksX,lineStyle:{color:'#555'}},axisLabel:{customValues:tfTicksX,fontSize:9.5,fontFamily:FONT,color:'#333',margin:4}},
 {min:-.57,max:13.6,show:true,axisLine:{show:false},axisTick:{show:true,length:3,customValues:tfTicksY,lineStyle:{color:'#555'}},axisLabel:{customValues:tfTicksY,fontSize:9.5,fontFamily:FONT,color:'#333',margin:4}},
 {show:true,borderColor:'#666',borderWidth:1,backgroundColor:'#fff'});
ln(tfg,tfFlatRange,'#dcdcdc',4,2);
series.push({type:'scatter',xAxisIndex:tfg,yAxisIndex:tfg,data:tfPoints,silent:true,animation:false,clip:false,z:3,itemStyle:{opacity:1},symbolSize:4});
vms.push({show:false,type:'continuous',seriesIndex:series.length-1,dimension:1,min:0,max:13,inRange:{color:tfStops}});
tfLeaders.forEach(p=>ln(tfg,p,'#111',.9,4));
series.push({type:'scatter',xAxisIndex:tfg,yAxisIndex:tfg,silent:true,clip:false,symbolSize:0,z:5,data:tfLabels.map(t=>({value:[t[0],t[1]],label:{show:true,formatter:t[2],position:'right',distance:0,fontSize:8.1,fontFamily:FONT,color:'#222'}}))});
T(599,629,'mlog10Padj',{size:9.7,color:'#111'});
bar(640,638,8,83,tfStops,true);
tfLegendTicks.forEach((s,i)=>T(638,641+i*15.8,s,{align:'right',size:5,color:'#444'}));
T(419,690,'-log10(P-adj))',{align:'center',size:8.5,rot:Math.PI/2,color:'#222'});
T(546,762,'Rank Sorted TFs Binding Motifs',{align:'center',size:9.6,color:'#222'});

/* ---------- H ---------- */
const trackFrame={show:true,borderColor:'#888',borderWidth:1,backgroundColor:'#fff'};
const h1=G(421.7,820.7,240,39.3,{min:0,max:2001},{min:0,max:118},trackFrame);
series.push({type:'bar',xAxisIndex:h1,yAxisIndex:h1,data:trackGlucan,barWidth:2,silent:true,animation:false,itemStyle:{color:'#b03038'}});
ln(h1,[[0,1],[2001,1]],'#c07078',1);
const h2=G(421.7,860,240,39.3,{min:0,max:2001},{min:0,max:118},{show:false});
series.push({type:'bar',xAxisIndex:h2,yAxisIndex:h2,data:trackPbs,barWidth:2,silent:true,animation:false,itemStyle:{color:'#3f8a45'}});
ln(h2,[[0,1],[2001,1]],'#70a075',1);
ln(h2,[[0,0],[0,118]],'#888',1);ln(h2,[[2001,0],[2001,118]],'#888',1);
const h3=G(421.7,900,240,36,{min:0,max:2001},{min:0,max:36,inverse:true});
series.push({type:'line',xAxisIndex:h3,yAxisIndex:h3,data:peakRegion.map(p=>[p[0],7]),showSymbol:false,symbol:'none',silent:true,lineStyle:{color:'#b03038',width:4,cap:'butt'}});
irfMotifs.forEach(m=>ln(h3,[[m,15.5],[m,19]],'#1f2060',1.5));
series.push({type:'line',xAxisIndex:h3,yAxisIndex:h3,data:ifna1Gene.map(p=>[p[0],26]),showSymbol:false,symbol:'none',silent:true,lineStyle:{color:'#000',width:4,cap:'butt'}});
T(660.7,816,'chr4:88849086-88851087',{align:'right',size:7.8,color:'#333'});
T(413,860,'GMP',{align:'center',size:7.3,rot:Math.PI/2,color:'#222'});
T(425.7,828,'β-glucan',{size:7.5,color:'#222'});T(425.7,866,'PBS',{size:7.5,color:'#222'});
T(487,907,'Peak region',{align:'right',size:7.7,color:'#222'});T(513,917,'IRF1 motifs',{align:'right',size:7.7,color:'#222'});
T(539,926,'Ifna1',{align:'right',italic:true,size:7.7,color:'#222'});

echarts.init(document.getElementById('c'),null,{renderer:'canvas',width:704,height:1188}).setOption({
  animation:false,backgroundColor:'#fff',textStyle:{fontFamily:FONT},
  grid:grids,xAxis:xA,yAxis:yA,series:series,visualMap:vms,graphic:{elements:gfx}
});
</script></body></html>
